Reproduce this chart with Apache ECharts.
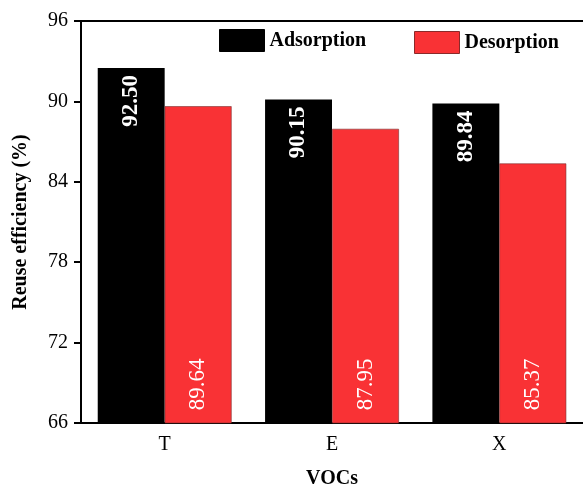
<!DOCTYPE html>
<html>
<head>
<meta charset="utf-8">
<script src="https://cdn.jsdelivr.net/npm/echarts@6/dist/echarts.min.js"></script>
<style>html,body{margin:0;padding:0;background:#fff;overflow:hidden;}#c{width:583px;height:494px;}</style>
</head>
<body>
<div id="c"></div>
<script>
const categories = ['T', 'E', 'X'];
const adsorption = [92.50, 90.15, 89.84];
const desorption = [89.64, 87.95, 85.37];
const yTicks = [66, 72, 78, 84, 90, 96];

const F = "'Liberation Serif', 'Times New Roman', serif";
const RED = '#f93235';
const legendText = {fontFamily: F, fontWeight: 'bold', fontSize: 20, color: '#000'};
const chart = echarts.init(document.getElementById('c'), null, {renderer: 'canvas'});
chart.setOption({
  animation: false,
  backgroundColor: '#fff',
  grid: {left: 81, right: -2, top: 21, bottom: 66, containLabel: false},
  legend: [{
    top: 29, left: 219, padding: 0,
    itemWidth: 45, itemHeight: 22, itemGap: 0,
    textStyle: legendText,
    data: [{name: 'Adsorption', icon: 'rect', itemStyle: {color: '#000', borderColor: '#000', borderWidth: 1}}]
  }, {
    top: 31, left: 414, padding: 0,
    itemWidth: 45, itemHeight: 22, itemGap: 0,
    textStyle: legendText,
    data: [{name: 'Desorption', icon: 'rect', itemStyle: {color: RED, borderColor: '#8a2a2a', borderWidth: 1}}]
  }],
  xAxis: [{
    type: 'category', data: categories, position: 'bottom',
    name: 'VOCs', nameLocation: 'middle', nameGap: 46,
    nameTextStyle: {fontFamily: F, fontWeight: 'bold', fontSize: 20, color: '#000'},
    axisLine: {lineStyle: {color: '#000', width: 2}},
    axisTick: {alignWithLabel: true, length: 7, lineStyle: {color: '#000', width: 2}},
    axisLabel: {fontFamily: F, fontSize: 20, color: '#000', margin: 12}
  }, {
    type: 'category', data: categories, position: 'top',
    axisLine: {lineStyle: {color: '#000', width: 2}},
    axisTick: {show: false}, axisLabel: {show: false}
  }],
  yAxis: {
    type: 'value', min: 66, max: 96, interval: 6,
    name: 'Reuse efficiency (%)', nameLocation: 'middle', nameGap: 50,
    nameTextStyle: {fontFamily: F, fontWeight: 'bold', fontSize: 20, color: '#000'},
    axisLine: {show: true, lineStyle: {color: '#000', width: 2}},
    axisTick: {show: true, length: 7, lineStyle: {color: '#000', width: 2}},
    axisLabel: {fontFamily: F, fontSize: 20, color: '#000', margin: 13},
    splitLine: {show: false}
  },
  series: [{
    name: 'Adsorption', type: 'bar', data: adsorption,
    barGap: '0%', barCategoryGap: '20%',
    itemStyle: {color: '#000', borderColor: '#000', borderWidth: 0},
    label: {
      show: true, position: 'insideTop', rotate: 90, distance: 7,
      align: 'right', verticalAlign: 'middle',
      formatter: p => p.value.toFixed(2),
      fontFamily: F, fontWeight: 'bold', fontSize: 23, color: '#fff'
    }
  }, {
    name: 'Desorption', type: 'bar', data: desorption,
    itemStyle: {color: RED, borderColor: '#7a3030', borderWidth: 0.6},
    label: {
      show: true, position: 'insideBottom', rotate: 90, distance: 13,
      align: 'left', verticalAlign: 'middle',
      formatter: p => p.value.toFixed(2),
      fontFamily: F, fontWeight: 'normal', fontSize: 23, color: '#fff'
    }
  }]
});
</script>
</body>
</html>
